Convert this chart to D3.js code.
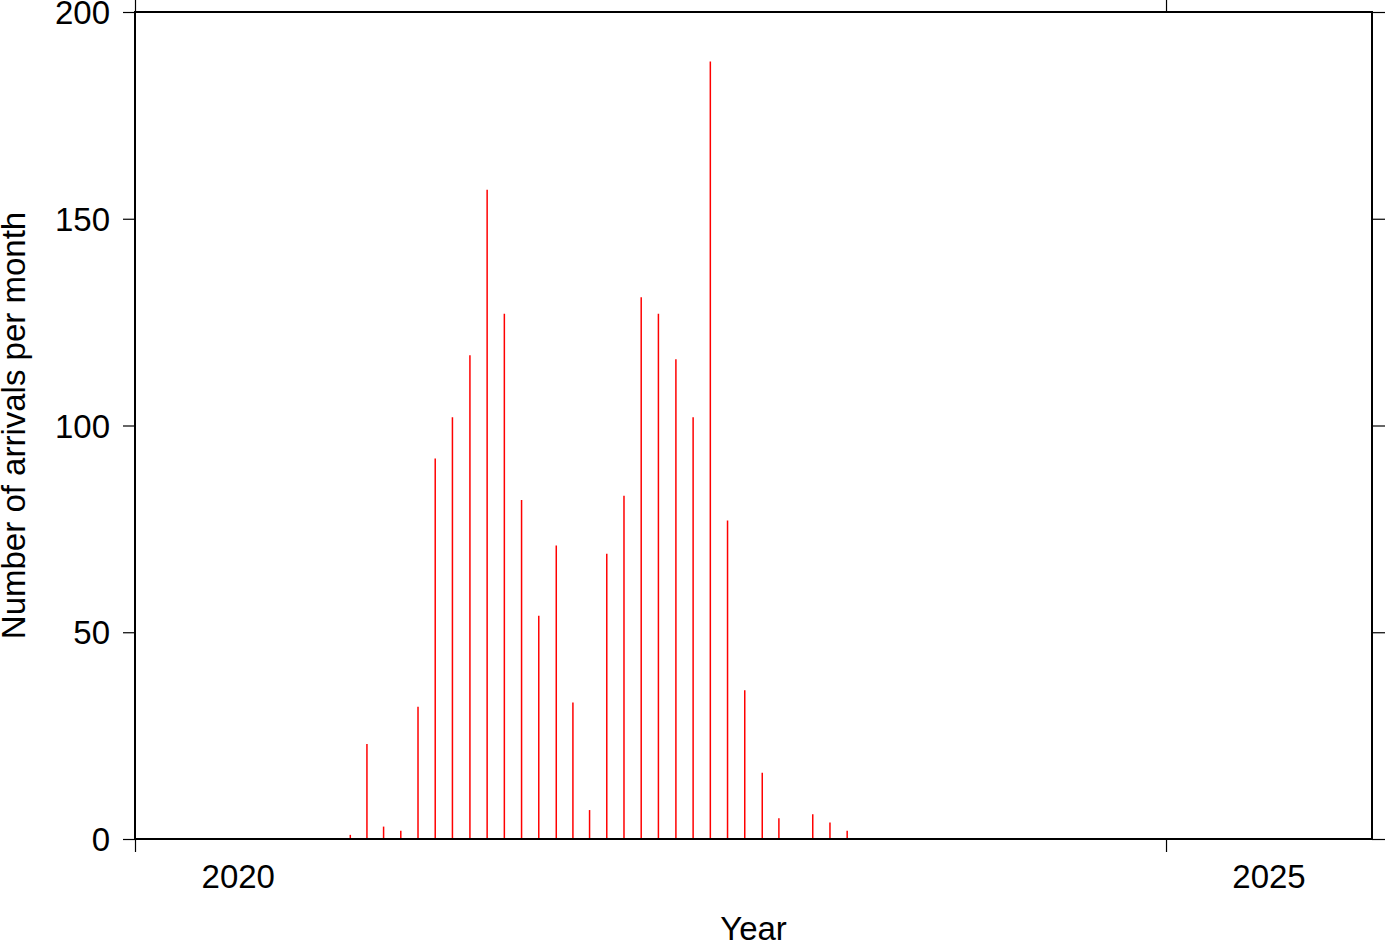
<!DOCTYPE html>
<html>
<head>
<meta charset="utf-8">
<script src="https://cdn.jsdelivr.net/npm/d3@7"></script>
<style>
  html, body { margin: 0; padding: 0; background: #fff; }
  svg { display: block; }
  text { font-family: "Liberation Sans", Arial, Helvetica, sans-serif; fill: #000; }
</style>
</head>
<body>
<script>
// ---- data ----
const months = [
  "2021-01","2021-02","2021-03","2021-04","2021-05","2021-06","2021-07","2021-08",
  "2021-09","2021-10","2021-11","2021-12","2022-01","2022-02","2022-03","2022-04",
  "2022-05","2022-06","2022-07","2022-08","2022-09","2022-10","2022-11","2022-12",
  "2023-01","2023-02","2023-03","2023-04","2023-05","2023-06"
];
const arrivals = [
  1, 23, 3, 2, 32, 92, 102, 117,
  157, 127, 82, 54, 71, 33, 7, 69,
  83, 131, 127, 116, 102, 188, 77, 36,
  16, 5, 0, 6, 4, 2
];
const yTicks = [0, 50, 100, 150, 200];
const xTickYears = [2020, 2025];
const xLabelYears = [2020, 2025];
const xTitle = "Year";
const yTitle = "Number of arrivals per month";

// ---- layout ----
const W = 1387, H = 942;
const mLeft = 135, mRight = 1372, mTop = 12, mBottom = 839;
const FS = 33;

const parse = d3.timeParse("%Y-%m");
const x = d3.scaleTime()
  .domain([new Date(2020, 0, 1), new Date(2026, 0, 1)])
  .range([mLeft, mRight]);
const y = d3.scaleLinear().domain([0, 200]).range([mBottom, mTop]);

const svg = d3.select("body").append("svg")
  .attr("width", W).attr("height", H);

// bars (mid-month)
const data = months.map((m, i) => ({ d: parse(m), v: arrivals[i] }));
const midX = d => {
  const s = d3.timeMonth.floor(d), e = d3.timeMonth.offset(s, 1);
  return (x(s) + x(e)) / 2;
};
svg.append("g").selectAll("line").data(data.filter(d => d.v > 0)).join("line")
  .attr("x1", d => midX(d.d)).attr("x2", d => midX(d.d))
  .attr("y1", y(0)).attr("y2", d => y(d.v))
  .attr("stroke", "#ff0000").attr("stroke-width", 1.5);

// axes ticks
const tickStyle = g => {
  g.select(".domain").remove();
  g.selectAll(".tick line").attr("stroke", "#000").attr("stroke-width", 1.2);
  g.selectAll(".tick text").remove();
};
const yearDates = xTickYears.map(yr => new Date(yr, 0, 1));
svg.append("g").attr("transform", `translate(0,${mBottom})`)
  .call(d3.axisBottom(x).tickValues(yearDates).tickSize(13).tickSizeOuter(0)).call(tickStyle);
svg.append("g").attr("transform", `translate(0,${mTop})`)
  .call(d3.axisTop(x).tickValues(yearDates).tickSize(12).tickSizeOuter(0)).call(tickStyle);
svg.append("g").attr("transform", `translate(${mLeft},0)`)
  .call(d3.axisLeft(y).tickValues(yTicks).tickSize(12).tickSizeOuter(0)).call(tickStyle);
svg.append("g").attr("transform", `translate(${mRight},0)`)
  .call(d3.axisRight(y).tickValues(yTicks).tickSize(13).tickSizeOuter(0)).call(tickStyle);

// frame
svg.append("rect")
  .attr("x", mLeft).attr("y", mTop)
  .attr("width", mRight - mLeft).attr("height", mBottom - mTop)
  .attr("fill", "none").attr("stroke", "#000").attr("stroke-width", 2);

// y tick labels
svg.append("g").selectAll("text").data(yTicks).join("text")
  .attr("x", mLeft - 25).attr("y", d => y(d) + 12)
  .attr("text-anchor", "end").attr("font-size", FS)
  .text(d => d);

// x labels centred in year interval
svg.append("g").selectAll("text").data(xLabelYears).join("text")
  .attr("x", yr => (x(new Date(yr, 0, 1)) + x(new Date(yr + 1, 0, 1))) / 2)
  .attr("y", 888)
  .attr("text-anchor", "middle").attr("font-size", FS)
  .text(yr => yr);

// titles
svg.append("text")
  .attr("x", (mLeft + mRight) / 2).attr("y", 940)
  .attr("text-anchor", "middle").attr("font-size", FS)
  .text(xTitle);
svg.append("text")
  .attr("transform", `translate(25,${(mTop + mBottom) / 2}) rotate(-90)`)
  .attr("text-anchor", "middle").attr("font-size", FS)
  .text(yTitle);
</script>
</body>
</html>
